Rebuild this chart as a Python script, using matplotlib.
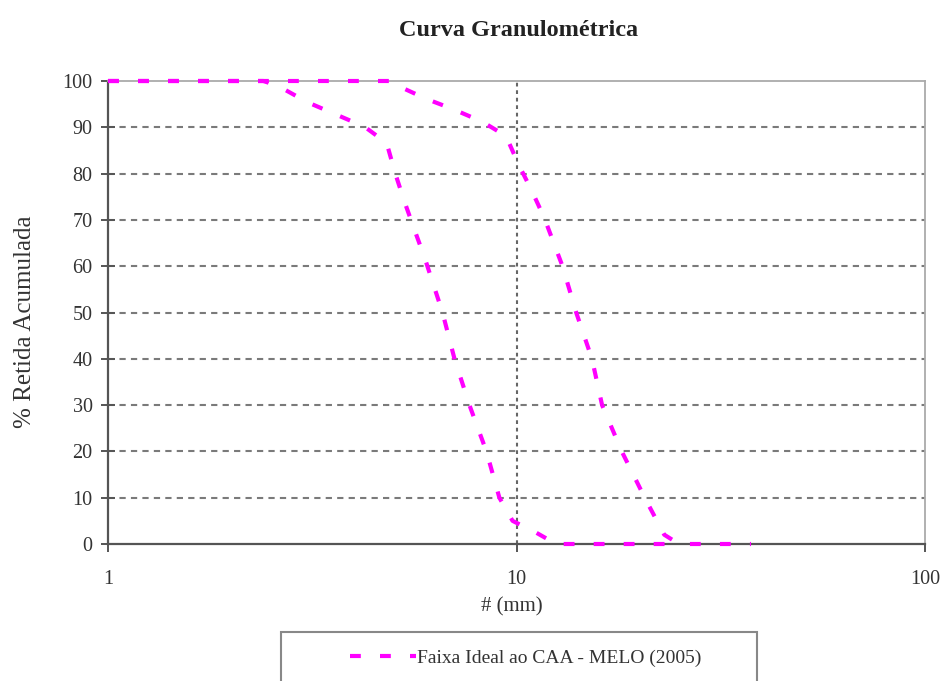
import matplotlib
matplotlib.use("Agg")
import matplotlib.pyplot as plt
from matplotlib.patches import Rectangle
from matplotlib.ticker import FixedLocator, FixedFormatter, NullLocator

# Data (sieve size in mm, % cumulative retained)
lower_x = [1.0, 2.4, 2.6, 3.08, 3.63, 4.25, 4.81, 5.05, 5.32, 5.63, 5.96,
           6.59, 7.05, 7.67, 8.44, 9.08, 9.78, 11.2, 12.5, 19.0, 25.0]
lower_y = [100, 100, 99, 95.4, 92.7, 90.1, 86.6, 80, 73.9, 67.8, 61.8,
           50, 40, 30, 20, 10, 5, 2.4, 0, 0, 0]
upper_x = [1.0, 4.98, 5.17, 6.03, 7.0, 8.25, 9.43, 10.1, 10.9, 11.7,
           12.96, 14.0, 15.3, 16.2, 18.1, 20.6, 23.0, 25.0, 37.5]
upper_y = [100, 100, 98.8, 96.1, 93.9, 91.2, 88.1, 82.1, 76.3, 70.4,
           60, 50, 40, 30, 20, 10, 2, 0, 0]

x_ticks = [1, 10, 100]
x_tick_labels = ["1", "10", "100"]
y_ticks = list(range(0, 101, 10))

title = "Curva Granulométrica"
xlabel = "# (mm)"
ylabel = "% Retida Acumulada"
series_label = "Faixa Ideal ao CAA - MELO (2005)"

plt.rcParams['font.family'] = ['Liberation Serif', 'DejaVu Serif']

W, H = 949, 681
fig = plt.figure(figsize=(W / 100, H / 100), dpi=100)
ax = fig.add_axes([108 / W, 1 - 544 / H, (925 - 108) / W, (544 - 81) / H])

magenta = "#FF00FF"
dash = (0, (2.6, 4.6))
l1, = ax.plot(lower_x, lower_y, color=magenta, lw=3, linestyle=dash,
              dash_capstyle='butt', clip_on=False, zorder=3, label=series_label)
ax.plot(upper_x, upper_y, color=magenta, lw=3, linestyle=dash,
        dash_capstyle='butt', clip_on=False, zorder=3)

ax.set_xscale('log')
ax.set_xlim(1, 100)
ax.set_ylim(0, 100)
ax.xaxis.set_major_locator(FixedLocator(x_ticks))
ax.xaxis.set_major_formatter(FixedFormatter(x_tick_labels))
ax.xaxis.set_minor_locator(NullLocator())
ax.set_yticks(y_ticks)

# gridlines
for v in y_ticks[1:-1]:
    ax.axhline(v, color="#7a7a7a", lw=1.5, linestyle=(0, (3, 2.5)), zorder=1)
ax.axvline(10, color="#666666", lw=1.5, linestyle=(0, (1.8, 1.8)), zorder=1)

for s in ['left', 'bottom']:
    ax.spines[s].set_color("#555555")
    ax.spines[s].set_linewidth(1.6)
for s in ['top', 'right']:
    ax.spines[s].set_color("#aaaaaa")
    ax.spines[s].set_linewidth(1.3)

ax.tick_params(axis='y', direction='inout', length=10, width=1.4, color="#555555",
               labelsize=14.5, pad=6, labelcolor="#333333")
ax.tick_params(axis='x', direction='out', length=6, width=1.4, color="#555555",
               labelsize=14.5, pad=13, labelcolor="#333333")

fig.text(519 / W, 1 - 30 / H, title, ha='center', va='center',
         fontsize=17.5, fontweight='bold', color="#222222")
fig.text(25 / W, 1 - 322 / H, ylabel, ha='center', va='center', rotation=90,
         fontsize=18, color="#333333")
fig.text(512 / W, 1 - 607 / H, xlabel, ha='center', va='center',
         fontsize=15, color="#333333")

# legend box
fig.patches.append(Rectangle((281 / W, -0.05), (757 - 281) / W, (1 - 632 / H) + 0.05,
                             transform=fig.transFigure, facecolor='white',
                             edgecolor="#888888", lw=1.5))
leg = fig.legend(handles=[l1], labels=[series_label], loc='center',
                 bbox_to_anchor=(526 / W, 1 - 658 / H), frameon=False,
                 fontsize=14, handlelength=3.4, handletextpad=0.05)
for t in leg.get_texts():
    t.set_color("#333333")

fig.savefig("out.png", dpi=100)
